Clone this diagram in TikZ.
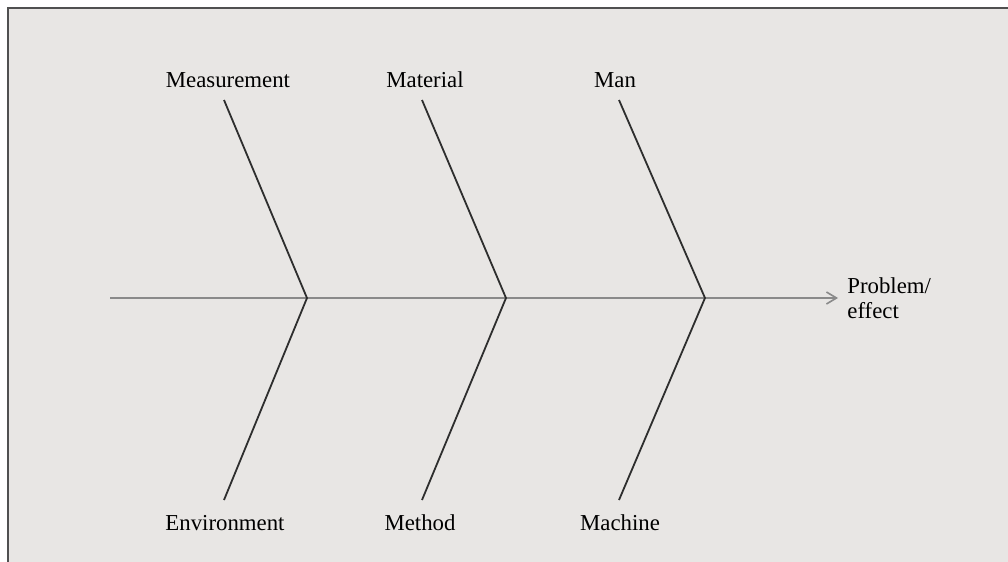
\documentclass[tikz,border=0pt]{standalone}
\usepackage{fontspec}
\setmainfont{Liberation Serif}
\usetikzlibrary{arrows.meta,calc}
\definecolor{paper}{HTML}{E8E6E4}
\definecolor{frame}{HTML}{505050}
\definecolor{spinegray}{HTML}{8A8A8A}
\definecolor{bonegray}{HTML}{2E2E2E}
\tikzset{>={Straight Barb[length=5pt,width=6pt]}}
\tikzstyle{cause}=[font=\fontsize{11.4}{12.5}\selectfont, text=black, inner sep=1pt]
\tikzstyle{bone}=[draw=bonegray, line width=0.9pt]
\tikzstyle{spine}=[draw=spinegray, line width=0.8pt]

\begin{document}
\begin{tikzpicture}[x=0.5pt,y=-0.5pt]
\useasboundingbox (0,0) rectangle (1008,562);
\fill[paper] (8,8) rectangle (1008,562);
\draw[frame, line width=1.3pt] (8,562) -- (8,8) -- (1008,8);

% joints on the spine
\coordinate (J1) at (307,298);
\coordinate (J2) at (506,298);
\coordinate (J3) at (705,298);
\coordinate (tail) at (110,298);
\coordinate (head) at (838,298);

% causes
\node[cause] (meas) at (228,80) {Measurement};
\node[cause] (mat)  at (425,80) {Material};
\node[cause] (man)  at (615,80) {Man};
\node[cause] (env)  at (225,523) {Environment};
\node[cause] (meth) at (420,523) {Method};
\node[cause] (mach) at (620,523) {Machine};
\node[cause, anchor=west, align=left] (eff) at (845,298) {Problem/\\effect};

% bone ends
\coordinate (U1) at (224,100);
\coordinate (U2) at (422,100);
\coordinate (U3) at (619,100);
\coordinate (L1) at (224,500);
\coordinate (L2) at (422,500);
\coordinate (L3) at (619,500);

\draw[spine,->] (tail) -- (head);
\foreach \i in {1,2,3}
  \draw[bone] (U\i) -- (J\i) -- (L\i);

\end{tikzpicture}
\end{document}
